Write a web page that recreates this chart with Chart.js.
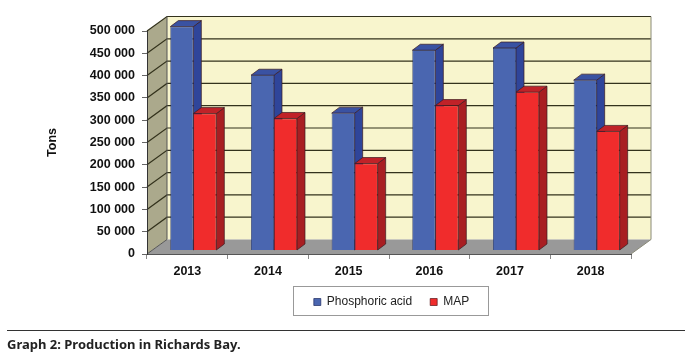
<!DOCTYPE html>
<html lang="en">

<head>
    <meta charset="UTF-8">
    <title>Production in Richards Bay</title>
    <script src="https://cdn.jsdelivr.net/npm/chart.js"></script>
    <style>
        body {
            margin: 0;
            background-color: #fff;
            width: 700px;
            height: 358px;
            position: relative;
            overflow: hidden;
        }

        canvas {
            position: absolute;
            left: 0;
            top: 0;
        }

        .rule {
            position: absolute;
            left: 7px;
            top: 330px;
            width: 678px;
            height: 1px;
            background-color: #333;
        }

        .caption {
            position: absolute;
            left: 7px;
            top: 335px;
            font: bold 13px "Noto Sans", sans-serif;
            color: #222;
            white-space: nowrap;
        }
    </style>
</head>

<body>
    <canvas id="productionChart" width="700" height="358"></canvas>
    <div class="rule"></div>
    <div class="caption">Graph 2: Production in Richards Bay.</div>

    <script>
        const years = ['2013', '2014', '2015', '2016', '2017', '2018'];
        const phosphoricAcid = [502000, 393000, 308000, 449000, 454000, 382000];
        const map = [307000, 296000, 195000, 325000, 355000, 267000];

        // depth of the fake 3D box and of the bars
        const wallDx = 20, wallDy = -14.5;
        const barDx = 8, barDy = -6;
        const barShiftX = 6, barShiftY = -3.5;

        function fillPoly(ctx, pts, color, stroke) {
            ctx.beginPath();
            pts.forEach((p, i) => i ? ctx.lineTo(p[0], p[1]) : ctx.moveTo(p[0], p[1]));
            ctx.closePath();
            ctx.fillStyle = color;
            ctx.fill();
            if (stroke) {
                ctx.strokeStyle = stroke;
                ctx.lineWidth = 0.7;
                ctx.stroke();
            }
        }

        const box3d = {
            id: 'box3d',
            afterLayout(chart) {
                // legend sits in its own frame, off centre
                const lg = chart.legend;
                lg.left = 287;
                lg.right = 496;
                lg.top = 278;
                lg.bottom = 320;
            },
            beforeDraw(chart) {
                const { ctx, chartArea: a, scales: { y } } = chart;
                const bx = a.left + wallDx, by = a.bottom + wallDy;
                const tx = a.right + wallDx, ty = a.top + wallDy;

                fillPoly(ctx, [[bx, ty], [tx, ty], [tx, by], [bx, by]], '#f8f5cd');
                fillPoly(ctx, [[a.left, a.top], [bx, ty], [bx, by], [a.left, a.bottom]], '#aba98c');
                fillPoly(ctx, [[a.left, a.bottom], [bx, by], [tx, by], [a.right, a.bottom]], '#999999');

                // grid lines run along side wall and back wall
                ctx.strokeStyle = '#33321c';
                ctx.lineWidth = 1.2;
                y.ticks.forEach(t => {
                    if (t.value === 0) return;
                    const py = y.getPixelForValue(t.value);
                    ctx.beginPath();
                    ctx.moveTo(a.left, py);
                    ctx.lineTo(bx, py + wallDy);
                    ctx.lineTo(tx, py + wallDy);
                    ctx.stroke();
                });

                ctx.strokeStyle = '#8a8a78';
                ctx.lineWidth = 1;
                ctx.beginPath();
                ctx.moveTo(tx, ty);
                ctx.lineTo(tx, by);
                ctx.lineTo(a.right, a.bottom);
                ctx.stroke();

                ctx.strokeStyle = '#555';
                ctx.beginPath();
                ctx.moveTo(bx, ty);
                ctx.lineTo(bx, by);
                ctx.lineTo(a.left, a.bottom);
                ctx.stroke();
            },
            beforeDatasetsDraw(chart) {
                // side and top faces first, fronts are then drawn over them by the library
                const ctx = chart.ctx;
                ctx.save();
                ctx.translate(barShiftX, barShiftY);
                chart.data.datasets.forEach((ds, i) => {
                    chart.getDatasetMeta(i).data.forEach(el => {
                        const l = el.x - el.width / 2, r = el.x + el.width / 2;
                        fillPoly(ctx, [[r, el.y], [r + barDx, el.y + barDy], [r + barDx, el.base + barDy], [r, el.base]], ds.sideColor, '#3a1a20');
                        fillPoly(ctx, [[l, el.y], [l + barDx, el.y + barDy], [r + barDx, el.y + barDy], [r, el.y]], ds.topColor, '#3a1a20');
                    });
                });
                ctx.restore();
            },
            beforeDatasetDraw(chart) {
                chart.ctx.save();
                chart.ctx.translate(barShiftX, barShiftY);
            },
            afterDatasetDraw(chart) {
                chart.ctx.restore();
            },
            afterDraw(chart) {
                const ctx = chart.ctx;
                ctx.strokeStyle = '#999';
                ctx.lineWidth = 1;
                ctx.strokeRect(293.5, 286.5, 195, 29);
            }
        };

        new Chart(document.getElementById('productionChart'), {
            type: 'bar',
            data: {
                labels: years,
                datasets: [
                    {
                        label: 'Phosphoric acid',
                        data: phosphoricAcid,
                        backgroundColor: '#4a66b0',
                        sideColor: '#2f459a',
                        topColor: '#3a52a2',
                        borderColor: '#1c2a60',
                        borderWidth: 0.7
                    },
                    {
                        label: 'MAP',
                        data: map,
                        backgroundColor: '#f02c2c',
                        sideColor: '#a81e22',
                        topColor: '#c02228',
                        borderColor: '#5a1418',
                        borderWidth: 0.7
                    }
                ]
            },
            options: {
                responsive: false,
                animation: false,
                clip: false,
                barPercentage: 1,
                categoryPercentage: 0.57,
                layout: {
                    padding: { left: 41, top: 31, right: 69, bottom: 36 }
                },
                plugins: {
                    tooltip: { enabled: false },
                    legend: {
                        position: 'bottom',
                        labels: {
                            boxWidth: 7,
                            boxHeight: 7,
                            padding: 18,
                            color: '#222',
                            font: { family: '"Liberation Sans"', size: 12 }
                        }
                    }
                },
                scales: {
                    x: {
                        afterFit(s) { s.height = 28; },
                        grid: { drawOnChartArea: false, tickLength: 5, color: '#888' },
                        border: { color: '#555' },
                        ticks: {
                            color: '#111',
                            padding: 5,
                            maxRotation: 0,
                            font: { family: '"Liberation Sans"', size: 12.5, weight: 'bold' }
                        }
                    },
                    y: {
                        min: 0,
                        max: 500000,
                        afterFit(s) { s.width = 106; },
                        title: {
                            display: true,
                            text: 'Tons',
                            color: '#111',
                            font: { family: '"Liberation Sans"', size: 12.5, weight: 'bold' }
                        },
                        grid: { drawOnChartArea: false, tickLength: 5, color: '#666' },
                        border: { color: '#333' },
                        ticks: {
                            stepSize: 50000,
                            color: '#111',
                            padding: 7,
                            font: { family: '"Liberation Sans"', size: 12.5, weight: 'bold' },
                            callback: v => String(v).replace(/\B(?=(\d{3})+$)/g, ' ')
                        }
                    }
                }
            },
            plugins: [box3d]
        });
    </script>
</body>

</html>
